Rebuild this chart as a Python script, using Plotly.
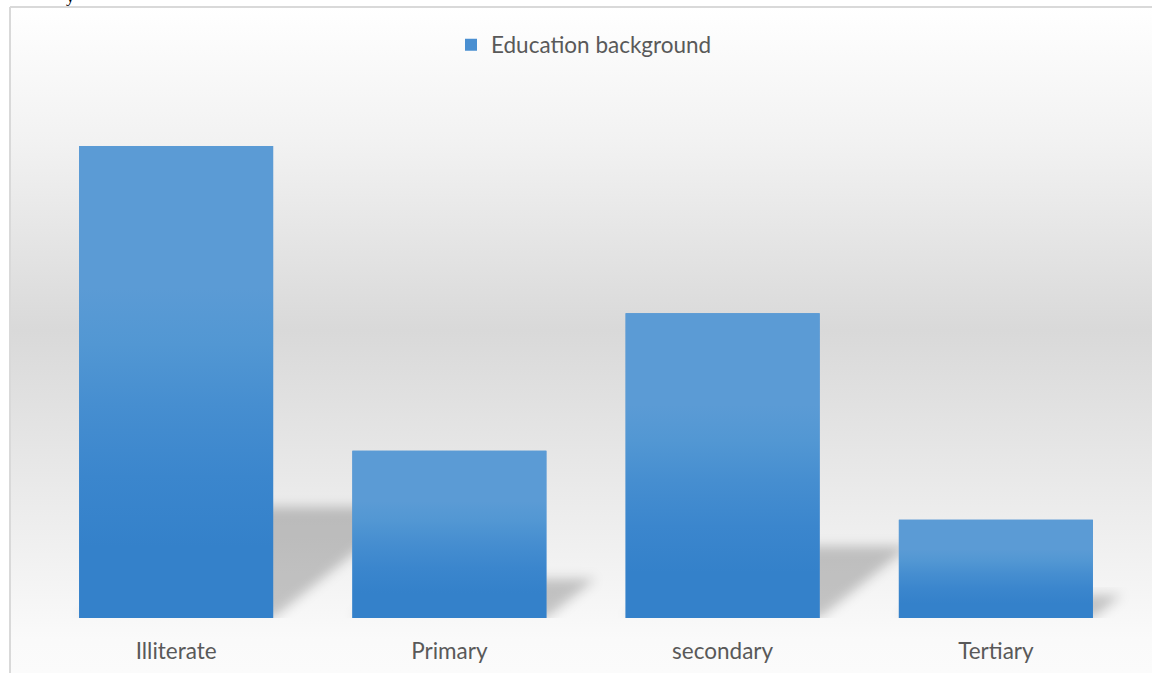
import base64
import plotly.graph_objects as go

# Chart data
categories = ["Illiterate", "Primary", "secondary", "Tertiary"]
values = [48, 17, 31, 10]
series_name = "Education background"

# Figure geometry (pixels)
W, H = 1152, 673
plot_left, plot_right = 39.5, 1132.5
plot_bottom_px, plot_top_px = 618, 87
y_max = 54
bar_width = 0.71

px_per_x = (plot_right - plot_left) / len(categories)
px_per_y = (plot_bottom_px - plot_top_px) / y_max

BAR_LIGHT = "#5b9bd5"
BAR_DARK = "#3481ca"
TEXT_GREY = "#595959"
FONT = "Lato"
FONT_SIZE = 22.5


def svg_uri(svg):
    return "data:image/svg+xml;base64," + base64.b64encode(svg.encode()).decode()


fig = go.Figure()

# Bars (solid base colour, also provides the legend entry)
fig.add_trace(go.Bar(
    x=list(range(len(categories))), y=values, width=bar_width,
    name=series_name, marker=dict(color="#4a8fd1", line=dict(width=0)),
    showlegend=True, hoverinfo="skip",
))

# Vertical gradient fill over each bar
bar_scale = [
    [0, BAR_DARK], [0.15, BAR_DARK], [0.3, "#3b86cd"], [0.45, "#468ed0"],
    [0.58, "#5297d3"], [0.7, BAR_LIGHT], [1, BAR_LIGHT],
]
for i, v in enumerate(values):
    x0, x1 = i - bar_width / 2, i + bar_width / 2
    fig.add_trace(go.Scatter(
        x=[x0, x1, x1, x0, x0], y=[0, 0, v, v, 0],
        mode="lines", line=dict(width=0), fill="toself",
        fillgradient=dict(type="vertical", start=0, stop=v, colorscale=bar_scale),
        showlegend=False, hoverinfo="skip",
    ))

# Soft perspective shadows cast to the lower right of each bar
images = []
pad = 18
for i, v in enumerate(values):
    h_px = v * px_per_y
    sh = 0.235 * h_px
    dx = 1.25 * sh
    w_px = bar_width * px_per_x
    iw, ih = w_px + dx + 2 * pad, sh + 2 * pad
    pts = [
        (pad, ih - pad), (pad + w_px, ih - pad),
        (pad + w_px + dx, pad), (pad + dx, pad),
    ]
    pts_s = " ".join(f"{a:.1f},{b:.1f}" for a, b in pts)
    svg = (
        f'<svg xmlns="http://www.w3.org/2000/svg" width="{iw:.1f}" height="{ih:.1f}" '
        f'viewBox="0 0 {iw:.1f} {ih:.1f}">'
        '<defs><filter id="b" x="-30%" y="-30%" width="160%" height="160%">'
        '<feGaussianBlur stdDeviation="6"/></filter></defs>'
        f'<polygon points="{pts_s}" fill="#000" fill-opacity="0.21" filter="url(#b)"/></svg>'
    )
    images.append(dict(
        source=svg_uri(svg), xref="x", yref="y",
        x=i - bar_width / 2 - pad / px_per_x, y=(sh + pad) / px_per_y,
        sizex=iw / px_per_x, sizey=ih / px_per_y,
        sizing="stretch", xanchor="left", yanchor="top", layer="below",
    ))

# Chart-area background: white -> grey -> white vertical gradient
bg_top, bg_bottom = 7, 673
bg_svg = (
    '<svg xmlns="http://www.w3.org/2000/svg" width="100" height="100" '
    'viewBox="0 0 100 100" preserveAspectRatio="none">'
    '<defs><linearGradient id="g" x1="0" y1="0" x2="0" y2="1">'
    '<stop offset="0" stop-color="#ffffff"/>'
    '<stop offset="0.2" stop-color="#f2f2f2"/>'
    '<stop offset="0.485" stop-color="#d9d9d9"/>'
    '<stop offset="0.95" stop-color="#fafafa"/>'
    '<stop offset="1" stop-color="#fbfbfb"/>'
    '</linearGradient></defs>'
    '<rect x="0" y="0" width="100" height="100" fill="url(#g)"/></svg>'
)
images.append(dict(
    source=svg_uri(bg_svg), xref="paper", yref="paper",
    x=10 / W, y=1 - bg_top / H, sizex=(W - 10) / W + 0.02, sizey=(bg_bottom - bg_top) / H,
    sizing="stretch", xanchor="left", yanchor="top", layer="below",
))

fig.update_layout(
    width=W, height=H, autosize=False,
    margin=dict(l=0, r=0, t=0, b=0),
    paper_bgcolor="white", plot_bgcolor="rgba(0,0,0,0)",
    images=images,
    showlegend=True,
    legend=dict(
        x=451 / W, y=1 - 45 / H, xanchor="left", yanchor="middle",
        orientation="h", bgcolor="rgba(0,0,0,0)",
        font=dict(family=FONT, size=FONT_SIZE, color=TEXT_GREY),
    ),
    xaxis=dict(
        domain=[plot_left / W, plot_right / W],
        range=[-0.5, len(categories) - 0.5],
        tickmode="array", tickvals=list(range(len(categories))), ticktext=categories,
        tickfont=dict(family=FONT, size=FONT_SIZE, color=TEXT_GREY),
        ticks="outside", ticklen=13, tickcolor="rgba(0,0,0,0)",
        showgrid=False, zeroline=False, showline=False, fixedrange=True,
    ),
    yaxis=dict(
        domain=[1 - plot_bottom_px / H, 1 - plot_top_px / H],
        range=[0, y_max], visible=False, showgrid=False, zeroline=False, fixedrange=True,
    ),
    shapes=[
        dict(type="line", xref="paper", yref="paper", x0=10 / W, x1=1.02,
             y0=1 - bg_top / H, y1=1 - bg_top / H, line=dict(color="#d9d9d9", width=2)),
        dict(type="line", xref="paper", yref="paper", x0=10 / W, x1=10 / W,
             y0=1 - bg_top / H, y1=-0.02, line=dict(color="#d9d9d9", width=2)),
    ],
    annotations=[
        dict(text="y", xref="paper", yref="paper", x=70 / W, y=1 - 8 / H,
             xanchor="center", yanchor="bottom", showarrow=False,
             font=dict(family="Liberation Serif", size=17, color="black")),
    ],
)

fig.write_html("out.html")
